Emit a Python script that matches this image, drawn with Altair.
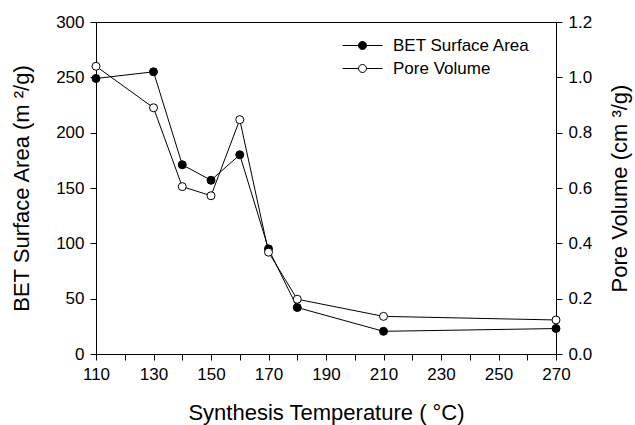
import altair as alt
import pandas as pd

temps = [110, 130, 140, 150, 160, 170, 180, 210, 270]
bet_area = [249, 255, 171, 157, 180, 95, 42, 20.5, 23]
pore_volume = [1.04, 0.89, 0.605, 0.572, 0.847, 0.368, 0.198, 0.136, 0.123]
series_names = ["BET Surface Area", "Pore Volume"]
x_ticks = list(range(110, 271, 10))
left_ticks = [0, 50, 100, 150, 200, 250, 300]
right_ticks = [0.0, 0.2, 0.4, 0.6, 0.8, 1.0, 1.2]

df = pd.DataFrame({
    "temp": temps * 2,
    "value": bet_area + pore_volume,
    "series": [series_names[0]] * len(temps) + [series_names[1]] * len(temps),
})

FONT = "Liberation Sans"

x_enc = alt.X(
    "temp:Q",
    scale=alt.Scale(domain=[110, 270], nice=False, zero=False),
    axis=alt.Axis(
        values=x_ticks,
        labelExpr="datum.value % 20 == 10 ? datum.label : ''",
        title="Synthesis Temperature (  °C)",
        titlePadding=20,
    ),
)

fill_enc = alt.Fill(
    "series:N",
    scale=alt.Scale(domain=series_names, range=["black", "white"]),
    legend=alt.Legend(
        title=None,
        orient="none",
        legendX=258,
        legendY=15,
        symbolType="M-5,0L-1,0M1,0L5,0M1,0A1,1,0,1,1,-1,0A1,1,0,1,1,1,0Z",
        symbolSize=64,
        symbolStrokeColor="black",
        symbolStrokeWidth=1,
        symbolOpacity=1,
        labelOffset=22,
        labelFontSize=17,
        labelFont=FONT,
        labelColor="black",
        rowPadding=5,
        padding=0,
    ),
)

bet_base = alt.Chart(df).transform_filter(alt.datum.series == series_names[0])
pore_base = alt.Chart(df).transform_filter(alt.datum.series == series_names[1])

y_left = alt.Y(
    "value:Q",
    scale=alt.Scale(domain=[0, 300], nice=False),
    axis=alt.Axis(values=left_ticks, orient="left",
                  title="BET Surface Area (m ²/g)", titlePadding=22),
)
y_right = alt.Y(
    "value:Q",
    scale=alt.Scale(domain=[0, 1.2], nice=False),
    axis=alt.Axis(values=right_ticks, orient="right", format=".1f",
                  title="Pore Volume (cm ³/g)", titlePadding=40, titleAngle=270),
)

bet_layer = alt.layer(
    bet_base.mark_line(color="black", strokeWidth=1).encode(x=x_enc, y=y_left),
    bet_base.mark_point(filled=True, stroke="black", strokeWidth=1, size=64, opacity=1)
    .encode(x=x_enc, y=y_left, fill=fill_enc),
)
pore_layer = alt.layer(
    pore_base.mark_line(color="black", strokeWidth=1).encode(x=x_enc, y=y_right),
    pore_base.mark_point(filled=True, stroke="black", strokeWidth=1, size=64, opacity=1)
    .encode(x=x_enc, y=y_right, fill=fill_enc),
)

chart = (
    alt.layer(bet_layer, pore_layer)
    .resolve_scale(y="independent")
    .properties(
        width=460,
        height=332,
        autosize=alt.AutoSizeParams(type="none"),
        padding={"left": 96, "top": 22, "right": 79, "bottom": 71},
        background="white",
    )
    .configure_view(stroke="black", strokeWidth=1)
    .configure_axis(
        grid=False,
        domainColor="black",
        domainWidth=1,
        tickColor="black",
        tickSize=6,
        tickWidth=1,
        labelFont=FONT,
        labelFontSize=17,
        labelColor="black",
        labelPadding=6,
        labelFlush=False,
        labelOverlap=False,
        titleFont=FONT,
        titleFontSize=22,
        titleFontWeight="normal",
        titleColor="black",
    )
)

chart.save("out.html", embed_options={"renderer": "svg", "actions": False})
